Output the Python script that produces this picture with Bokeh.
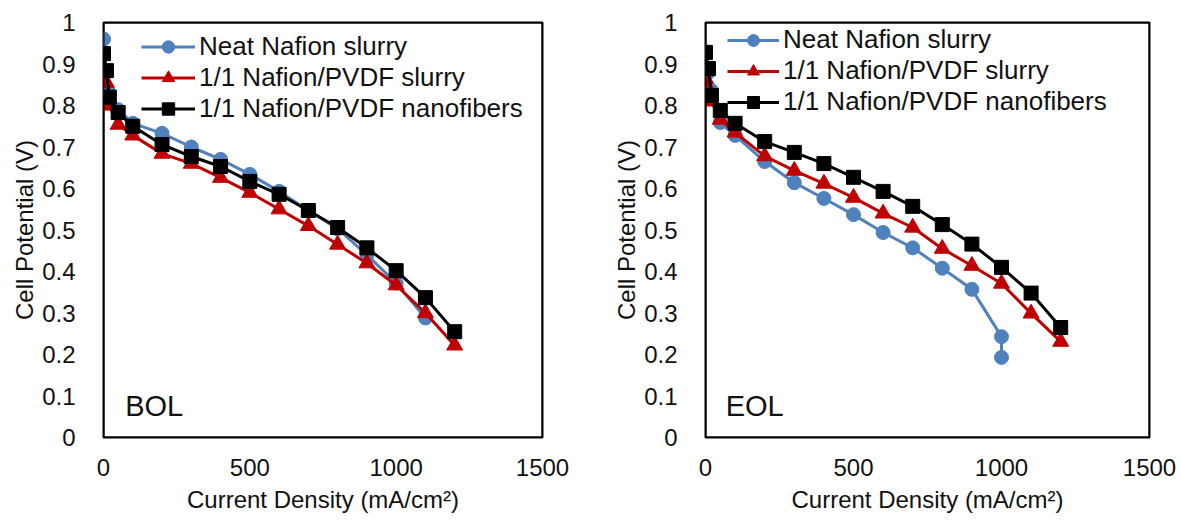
from bokeh.plotting import figure
from bokeh.layouts import row
from bokeh.models import FixedTicker, CustomJSTickFormatter, Legend, LegendItem, Label, BoxAnnotation
from bokeh.embed import file_html
from bokeh.resources import INLINE

FONT = "Liberation Sans"

# ---------------- data ----------------
x_ticks = [0, 500, 1000, 1500]
y_ticks = [0, 0.1, 0.2, 0.3, 0.4, 0.5, 0.6, 0.7, 0.8, 0.9, 1.0]
y_tick_labels = ["0", "0.1", "0.2", "0.3", "0.4", "0.5", "0.6", "0.7", "0.8", "0.9", "1"]

series_names = ["Neat Nafion slurry", "1/1 Nafion/PVDF slurry", "1/1 Nafion/PVDF nanofibers"]
series_colors = ["#4F81BD", "#C00000", "#000000"]
series_markers = ["circle", "triangle", "square"]

# BOL
bol_neat_x = [0, 10, 20, 50, 100, 200, 300, 400, 500, 600, 700, 800, 900, 1000, 1100]
bol_neat_y = [0.96, 0.88, 0.83, 0.79, 0.757, 0.733, 0.70, 0.67, 0.634, 0.593, 0.547, 0.503, 0.44, 0.372, 0.288]
bol_slurry_x = [0, 10, 20, 50, 100, 200, 300, 400, 500, 600, 700, 800, 900, 1000, 1100, 1200]
bol_slurry_y = [0.88, 0.855, 0.80, 0.754, 0.728, 0.684, 0.66, 0.626, 0.59, 0.55, 0.51, 0.465, 0.42, 0.367, 0.30, 0.222]
bol_fiber_x = [0, 10, 20, 50, 100, 200, 300, 400, 500, 600, 700, 800, 900, 1000, 1100, 1200]
bol_fiber_y = [0.925, 0.884, 0.82, 0.783, 0.75, 0.706, 0.677, 0.653, 0.617, 0.586, 0.547, 0.506, 0.457, 0.402, 0.337, 0.255]

# EOL
eol_neat_x = [0, 10, 20, 50, 100, 200, 300, 400, 500, 600, 700, 800, 900, 1000, 1000]
eol_neat_y = [0.93, 0.88, 0.836, 0.759, 0.728, 0.665, 0.614, 0.576, 0.537, 0.494, 0.457, 0.408, 0.357, 0.243, 0.193]
eol_slurry_x = [0, 10, 20, 50, 100, 200, 300, 400, 500, 600, 700, 800, 900, 1000, 1100, 1200]
eol_slurry_y = [0.865, 0.84, 0.81, 0.766, 0.735, 0.678, 0.643, 0.612, 0.578, 0.54, 0.506, 0.455, 0.414, 0.371, 0.299, 0.231]
eol_fiber_x = [0, 10, 20, 50, 100, 200, 300, 400, 500, 600, 700, 800, 900, 1000, 1100, 1200]
eol_fiber_y = [0.928, 0.889, 0.824, 0.788, 0.757, 0.713, 0.687, 0.66, 0.627, 0.593, 0.557, 0.513, 0.466, 0.41, 0.348, 0.265]

x_title = "Current Density (mA/cm²)"
y_title = "Cell Potential (V)"


def make_panel(series, tag, tag_x, border_left, frame_w, border_right, legend_loc, legend_glyph_w, legend_row_h):
    p = figure(
        frame_width=frame_w, frame_height=415,
        x_range=(0, 1500), y_range=(0, 1),
        output_backend="svg", toolbar_location=None,
        min_border_left=border_left, min_border_right=border_right,
        min_border_top=22, min_border_bottom=80,
        background_fill_color="white", border_fill_color="white",
    )
    p.outline_line_color = "black"
    p.outline_line_width = 2
    p.xgrid.visible = False
    p.ygrid.visible = False

    p.xaxis.ticker = FixedTicker(ticks=x_ticks)
    p.yaxis.ticker = FixedTicker(ticks=y_ticks)
    p.yaxis.formatter = CustomJSTickFormatter(
        args=dict(tv=y_ticks, lv=y_tick_labels),
        code="""
        let best = 0; let d = 1e9;
        for (let i = 0; i < tv.length; i++) {
          const dd = Math.abs(tv[i] - tick);
          if (dd < d) { d = dd; best = i; }
        }
        return lv[best];
        """,
    )
    for ax in (p.xaxis, p.yaxis):
        ax.axis_line_color = None
        ax.major_tick_line_color = None
        ax.minor_tick_line_color = None
        ax.major_tick_in = 0
        ax.major_tick_out = 0
        ax.minor_tick_in = 0
        ax.minor_tick_out = 0
        ax.major_label_text_font = FONT
        ax.major_label_text_font_size = "24px"
        ax.major_label_text_color = "#111111"
        ax.axis_label_text_font = FONT
        ax.axis_label_text_font_size = "24px"
        ax.axis_label_text_font_style = "normal"
        ax.axis_label_text_color = "#111111"
    p.xaxis.axis_label = x_title
    p.yaxis.axis_label = y_title
    p.yaxis.major_label_standoff = 28
    p.yaxis.axis_label_standoff = 1
    p.xaxis.major_label_standoff = 21
    p.xaxis.axis_label_standoff = 7

    items = []
    for (xs, ys), name, color, marker in zip(series, series_names, series_colors, series_markers):
        ln = p.line(xs, ys, line_color=color, line_width=3)
        size = 16 if marker == "triangle" else 14
        sc = p.scatter(xs, ys, marker=marker, size=size, fill_color=color, line_color=color)
        items.append(LegendItem(label=name, renderers=[ln, sc]))

    legend = Legend(
        items=items, location=legend_loc,
        background_fill_alpha=0, border_line_color=None,
        padding=0, margin=0, spacing=0,
        glyph_width=legend_glyph_w, glyph_height=legend_row_h, label_height=legend_row_h,
        label_standoff=4,
        label_text_font=FONT, label_text_font_size="26px", label_text_color="#111111",
    )
    p.add_layout(legend)

    p.add_layout(BoxAnnotation(fill_alpha=0, line_color="black", line_width=2, line_alpha=1))

    p.add_layout(Label(
        x=tag_x, y=0.077, text=tag, text_align="left", text_baseline="middle",
        text_font=FONT, text_font_size="29px", text_color="#111111",
    ))
    return p


bol = make_panel(
    [(bol_neat_x, bol_neat_y), (bol_slurry_x, bol_slurry_y), (bol_fiber_x, bol_fiber_y)],
    "BOL", 74, 103, 439, 58, (38, 313), 54, 31,
)
eol = make_panel(
    [(eol_neat_x, eol_neat_y), (eol_slurry_x, eol_slurry_y), (eol_fiber_x, eol_fiber_y)],
    "EOL", 68, 105, 444, 30, (22, 320), 52, 30,
)

layout = row(bol, eol, spacing=0)
open("out.html", "w").write(file_html(layout, INLINE))
